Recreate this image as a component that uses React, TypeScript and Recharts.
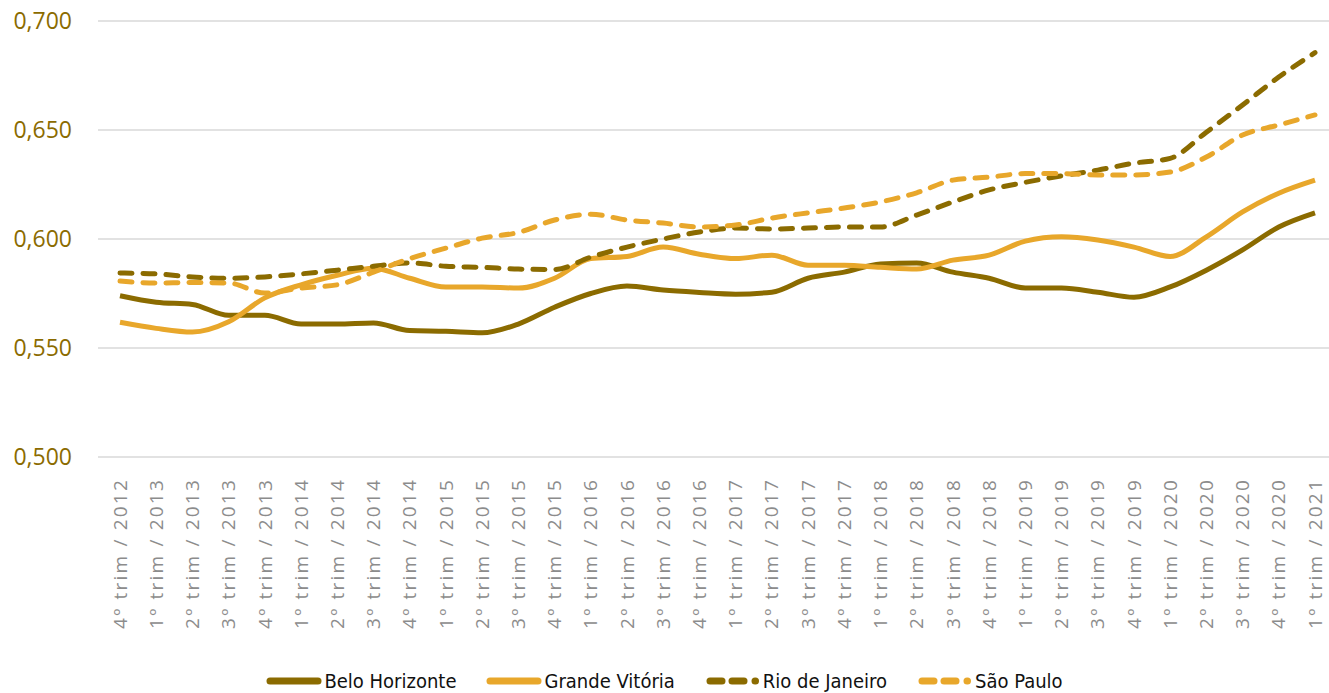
import { CartesianGrid, Legend, Line, LineChart, XAxis, YAxis } from "recharts";

const periods = [
  "4º trim / 2012",
  "1º trim / 2013", "2º trim / 2013", "3º trim / 2013", "4º trim / 2013",
  "1º trim / 2014", "2º trim / 2014", "3º trim / 2014", "4º trim / 2014",
  "1º trim / 2015", "2º trim / 2015", "3º trim / 2015", "4º trim / 2015",
  "1º trim / 2016", "2º trim / 2016", "3º trim / 2016", "4º trim / 2016",
  "1º trim / 2017", "2º trim / 2017", "3º trim / 2017", "4º trim / 2017",
  "1º trim / 2018", "2º trim / 2018", "3º trim / 2018", "4º trim / 2018",
  "1º trim / 2019", "2º trim / 2019", "3º trim / 2019", "4º trim / 2019",
  "1º trim / 2020", "2º trim / 2020", "3º trim / 2020", "4º trim / 2020",
  "1º trim / 2021",
];

const beloHorizonte = [
  0.574, 0.571, 0.570, 0.565, 0.565, 0.561, 0.561, 0.5615, 0.558, 0.5577,
  0.557, 0.561, 0.5687, 0.575, 0.5784, 0.5766, 0.5755, 0.5747, 0.5756, 0.582,
  0.5848, 0.5885, 0.589, 0.5848, 0.582, 0.5775, 0.5775, 0.5756, 0.5733, 0.578,
  0.5857, 0.595, 0.6055, 0.612,
];

const grandeVitoria = [
  0.5618, 0.559, 0.5573, 0.562, 0.573, 0.579, 0.5834, 0.5866, 0.582, 0.578,
  0.578, 0.5775, 0.582, 0.591, 0.592, 0.5963, 0.593, 0.591, 0.5926, 0.588,
  0.588, 0.587, 0.5862, 0.5903, 0.5926, 0.599, 0.601, 0.5995, 0.5963, 0.592,
  0.601, 0.6124, 0.621, 0.627,
];

const rioDeJaneiro = [
  0.5844, 0.584, 0.5826, 0.582, 0.5826, 0.584, 0.5857, 0.5875, 0.589, 0.5875,
  0.587, 0.5862, 0.586, 0.5917, 0.5963, 0.600, 0.6032, 0.605, 0.6046, 0.605,
  0.6055, 0.6055, 0.611, 0.617, 0.6225, 0.626, 0.629, 0.6316, 0.6348, 0.637,
  0.649, 0.6615, 0.6743, 0.6855,
];

const saoPaulo = [
  0.5807, 0.5798, 0.580, 0.5798, 0.5752, 0.5775, 0.579, 0.5848, 0.591, 0.5958,
  0.6004, 0.603, 0.6087, 0.6114, 0.6087, 0.6073, 0.6055, 0.6064, 0.6096, 0.612,
  0.6142, 0.617, 0.6212, 0.627, 0.6284, 0.630, 0.630, 0.6294, 0.6294, 0.6307,
  0.6376, 0.6477, 0.6523, 0.6569,
];

const yTicks = [0.5, 0.55, 0.6, 0.65, 0.7];

const DARK = "#8b6b00";
const LIGHT = "#e8a72b";

const data = periods.map((p, i) => ({
  period: p,
  bh: beloHorizonte[i],
  gv: grandeVitoria[i],
  rj: rioDeJaneiro[i],
  sp: saoPaulo[i],
}));

const seriesInfo = [
  { key: "bh", name: "Belo Horizonte", color: DARK, dashed: false },
  { key: "gv", name: "Grande Vitória", color: LIGHT, dashed: false },
  { key: "rj", name: "Rio de Janeiro", color: DARK, dashed: true },
  { key: "sp", name: "São Paulo", color: LIGHT, dashed: true },
];

function PeriodTick({ x, payload }: any) {
  return (
    <g transform={`translate(${x},478)`}>
      <text
        transform="rotate(-90)"
        textAnchor="end"
        dy="0.35em"
        fill="#8c8c8c"
        fontSize={19}
        letterSpacing={2.2}
        fontFamily="'Open Sans', sans-serif"
      >
        {payload.value}
      </text>
    </g>
  );
}

function LegendIcon({ color, dashed }: { color: string; dashed: boolean }) {
  return (
    <svg width={56} height={12} style={{ display: "block" }}>
      {dashed ? (
        <g stroke={color} strokeWidth={7} strokeLinecap="round">
          <line x1={5} y1={6} x2={17} y2={6} />
          <line x1={27} y1={6} x2={39} y2={6} />
          <line x1={50} y1={6} x2={50.5} y2={6} />
        </g>
      ) : (
        <line x1={4} y1={6} x2={52} y2={6} stroke={color} strokeWidth={7} strokeLinecap="round" />
      )}
    </svg>
  );
}

function LegendContent() {
  return (
    <div
      style={{
        height: 36,
        display: "flex",
        justifyContent: "center",
        alignItems: "flex-end",
        gap: 30,
        fontFamily: "'DejaVu Sans Condensed', 'DejaVu Sans', sans-serif",
        fontStretch: "condensed",
        fontSize: 20,
        color: "#111",
      }}
    >
      {seriesInfo.map((s) => (
        <div key={s.key} style={{ display: "flex", alignItems: "center", gap: 2 }}>
          <LegendIcon color={s.color} dashed={s.dashed} />
          <span>{s.name}</span>
        </div>
      ))}
    </div>
  );
}

export default function App() {
  return (
    <div style={{ width: 1329, height: 693, background: "#fff" }}>
      <style>{"body{margin:0}"}</style>
      <LineChart width={1329} height={693} data={data} margin={{ top: 21, right: 0, bottom: 0, left: 0 }}>
        <CartesianGrid vertical={false} stroke="#d9d9d9" strokeWidth={1.5} />
        <XAxis
          dataKey="period"
          interval={0}
          height={200}
          axisLine={false}
          tickLine={false}
          tick={<PeriodTick />}
          padding={{ left: 22, right: 14 }}
        />
        <YAxis
          domain={[0.5, 0.7]}
          ticks={yTicks}
          width={98}
          axisLine={false}
          tickLine={false}
          tickMargin={20}
          tickFormatter={(v: number) => v.toFixed(3).replace(".", ",")}
          tick={{ fill: DARK, fontSize: 23, fontFamily: "'Open Sans', sans-serif" }}
        />
        <Legend verticalAlign="bottom" height={36} content={<LegendContent />} />
        {seriesInfo.map((s) => (
          <Line
            key={s.key}
            dataKey={s.key}
            name={s.name}
            type="monotone"
            stroke={s.color}
            strokeWidth={5}
            strokeDasharray={s.dashed ? "12 11" : undefined}
            strokeLinecap={s.dashed ? "round" : "butt"}
            dot={false}
            isAnimationActive={false}
          />
        ))}
      </LineChart>
    </div>
  );
}
